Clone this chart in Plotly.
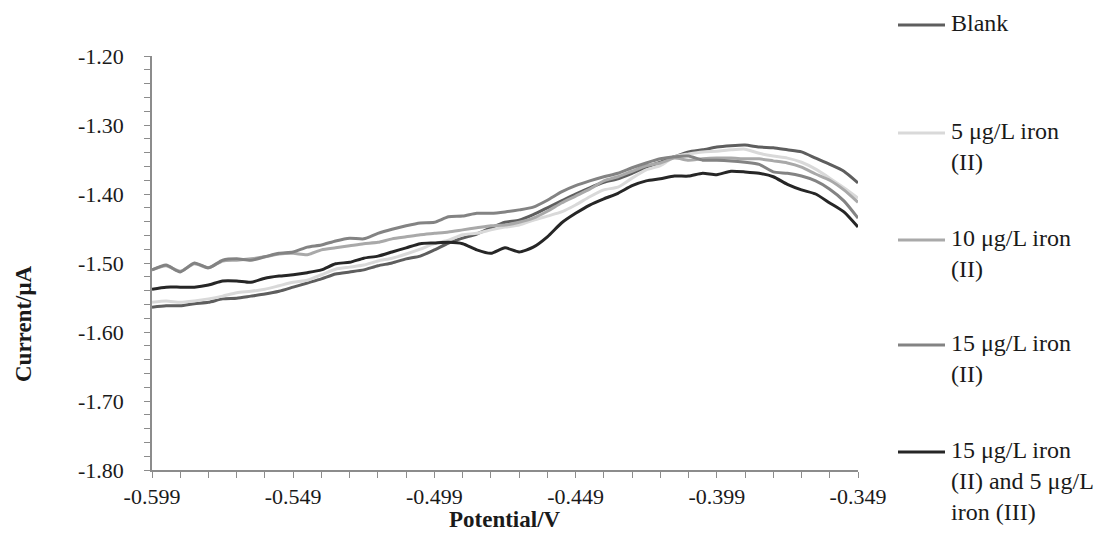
import plotly.graph_objects as go

potential = [-0.599, -0.594, -0.589, -0.584, -0.579, -0.574, -0.569, -0.564, -0.559, -0.554,
             -0.549, -0.544, -0.539, -0.534, -0.529, -0.524, -0.519, -0.514, -0.509, -0.504,
             -0.499, -0.494, -0.489, -0.484, -0.479, -0.474, -0.469, -0.464, -0.459, -0.454,
             -0.449, -0.444, -0.439, -0.434, -0.429, -0.424, -0.419, -0.414, -0.409, -0.404,
             -0.399, -0.394, -0.389, -0.384, -0.379, -0.374, -0.369, -0.364, -0.359, -0.354,
             -0.349]

blank = [-1.564, -1.562, -1.562, -1.559, -1.557, -1.552, -1.551, -1.548, -1.545, -1.541,
         -1.535, -1.529, -1.523, -1.516, -1.513, -1.510, -1.504, -1.500, -1.494, -1.490,
         -1.481, -1.471, -1.464, -1.458, -1.449, -1.441, -1.438, -1.430, -1.420, -1.410,
         -1.400, -1.391, -1.383, -1.378, -1.370, -1.361, -1.354, -1.346, -1.339, -1.336,
         -1.332, -1.330, -1.329, -1.332, -1.333, -1.336, -1.339, -1.348, -1.357, -1.367,
         -1.384]

iron5 = [-1.557, -1.555, -1.557, -1.555, -1.552, -1.548, -1.543, -1.541, -1.538, -1.533,
         -1.528, -1.525, -1.517, -1.509, -1.506, -1.503, -1.497, -1.493, -1.487, -1.480,
         -1.472, -1.467, -1.459, -1.457, -1.452, -1.448, -1.445, -1.438, -1.432, -1.426,
         -1.416, -1.404, -1.394, -1.390, -1.377, -1.365, -1.359, -1.346, -1.342, -1.339,
         -1.338, -1.336, -1.335, -1.341, -1.345, -1.348, -1.354, -1.364, -1.377, -1.391,
         -1.406]

iron10 = [-1.510, -1.504, -1.512, -1.501, -1.507, -1.497, -1.496, -1.494, -1.491, -1.487,
          -1.486, -1.488, -1.481, -1.478, -1.475, -1.472, -1.470, -1.465, -1.462, -1.459,
          -1.457, -1.455, -1.452, -1.449, -1.446, -1.445, -1.441, -1.435, -1.425, -1.413,
          -1.403, -1.393, -1.381, -1.375, -1.367, -1.359, -1.355, -1.348, -1.351, -1.349,
          -1.348, -1.348, -1.349, -1.349, -1.352, -1.355, -1.361, -1.371, -1.380, -1.394,
          -1.412]

iron15 = [-1.510, -1.503, -1.513, -1.500, -1.507, -1.496, -1.494, -1.496, -1.491, -1.486,
          -1.484, -1.477, -1.474, -1.468, -1.464, -1.465, -1.457, -1.451, -1.446, -1.442,
          -1.441, -1.433, -1.432, -1.428, -1.428, -1.426, -1.423, -1.419, -1.409, -1.397,
          -1.388, -1.381, -1.375, -1.370, -1.362, -1.355, -1.349, -1.346, -1.345, -1.351,
          -1.351, -1.352, -1.354, -1.357, -1.368, -1.370, -1.374, -1.381, -1.393, -1.410,
          -1.435]

iron15_3 = [-1.538, -1.535, -1.535, -1.535, -1.532, -1.526, -1.526, -1.528, -1.522, -1.519,
            -1.517, -1.514, -1.510, -1.501, -1.499, -1.493, -1.490, -1.484, -1.478, -1.472,
            -1.471, -1.470, -1.472, -1.481, -1.486, -1.478, -1.484, -1.477, -1.462, -1.442,
            -1.428, -1.416, -1.407, -1.399, -1.388, -1.381, -1.378, -1.374, -1.374, -1.370,
            -1.372, -1.367, -1.368, -1.370, -1.375, -1.386, -1.394, -1.400, -1.413, -1.426,
            -1.448]

series_names = ["Blank", "5 μg/L iron<br>(II)", "10 μg/L iron<br>(II)",
                "15 μg/L iron<br>(II)", "15 μg/L iron<br>(II) and 5 μg/L<br>iron (III)"]
series_values = [blank, iron5, iron10, iron15, iron15_3]
colors = ["#5e5e5e", "#d9d9d9", "#a9a9a9", "#838383", "#262626"]

x_tickvals = [-0.599, -0.549, -0.499, -0.449, -0.399, -0.349]
x_ticktext = ["-0.599", "-0.549", "-0.499", "-0.449", "-0.399", "-0.349"]
y_tickvals = [-1.80, -1.70, -1.60, -1.50, -1.40, -1.30, -1.20]
y_ticktext = ["-1.80", "-1.70", "-1.60", "-1.50", "-1.40", "-1.30", "-1.20"]

W, H = 1106, 533
L, R, T, B = 152, 248, 56, 63
pw, ph = W - L - R, H - T - B
FONT = "Liberation Serif"

fig = go.Figure()
for name, vals, col in zip(series_names, series_values, colors):
    fig.add_trace(go.Scatter(x=potential, y=vals, mode="lines", name=name,
                             line=dict(color=col, width=3, shape="spline", smoothing=0.6),
                             showlegend=False))

def px_x(px):
    return (px - L) / pw

def px_y(py):
    return (H - B - py) / ph

legend_first_line = [25, 133, 240, 345, 452]
annotations = []
shapes = []
for name, col, ly in zip(series_names, colors, legend_first_line):
    shapes.append(dict(type="line", xref="paper", yref="paper",
                       x0=px_x(898), x1=px_x(945), y0=px_y(ly), y1=px_y(ly),
                       line=dict(color=col, width=3)))
    annotations.append(dict(text=name, xref="paper", yref="paper",
                            x=px_x(949), y=px_y(ly - 17), xanchor="left", yanchor="top",
                            align="left", showarrow=False,
                            font=dict(family=FONT, size=24, color="#1a1a1a")))

annotations.append(dict(text="<b>Potential/V</b>", xref="paper", yref="paper",
                        x=px_x(505), y=px_y(519), xanchor="center", yanchor="middle",
                        showarrow=False, font=dict(family=FONT, size=23, color="#1a1a1a")))
annotations.append(dict(text="<b>Current/μA</b>", xref="paper", yref="paper",
                        x=px_x(23), y=px_y(324), xanchor="center", yanchor="middle",
                        textangle=-90, showarrow=False,
                        font=dict(family=FONT, size=23, color="#1a1a1a")))

axis_col = "#8c8c8c"
fig.update_layout(
    width=W, height=H,
    margin=dict(l=L, r=R, t=T, b=B),
    paper_bgcolor="white", plot_bgcolor="white",
    showlegend=False,
    shapes=shapes, annotations=annotations,
    xaxis=dict(range=[-0.599, -0.349], tickmode="array", tickvals=x_tickvals, ticktext=x_ticktext,
               showgrid=False, zeroline=False, showline=True, linecolor=axis_col, linewidth=1.5,
               ticks="outside", ticklen=6, tickcolor=axis_col, tickwidth=1,
               tickfont=dict(family=FONT, size=22, color="#1a1a1a"),
               minor=dict(tickmode="linear", tick0=-0.599, dtick=0.01, ticks="outside",
                          ticklen=6, tickcolor=axis_col, showgrid=False)),
    yaxis=dict(range=[-1.80, -1.20], tickmode="array", tickvals=y_tickvals, ticktext=y_ticktext,
               showgrid=False, zeroline=False, showline=True, linecolor=axis_col, linewidth=1.5,
               ticks="outside", ticklen=6, tickcolor=axis_col, tickwidth=1,
               ticklabelstandoff=16,
               tickfont=dict(family=FONT, size=22, color="#1a1a1a"),
               minor=dict(tickmode="linear", tick0=-1.80, dtick=0.02, ticks="outside",
                          ticklen=6, tickcolor=axis_col, showgrid=False)),
)

fig.write_html("out.html")
